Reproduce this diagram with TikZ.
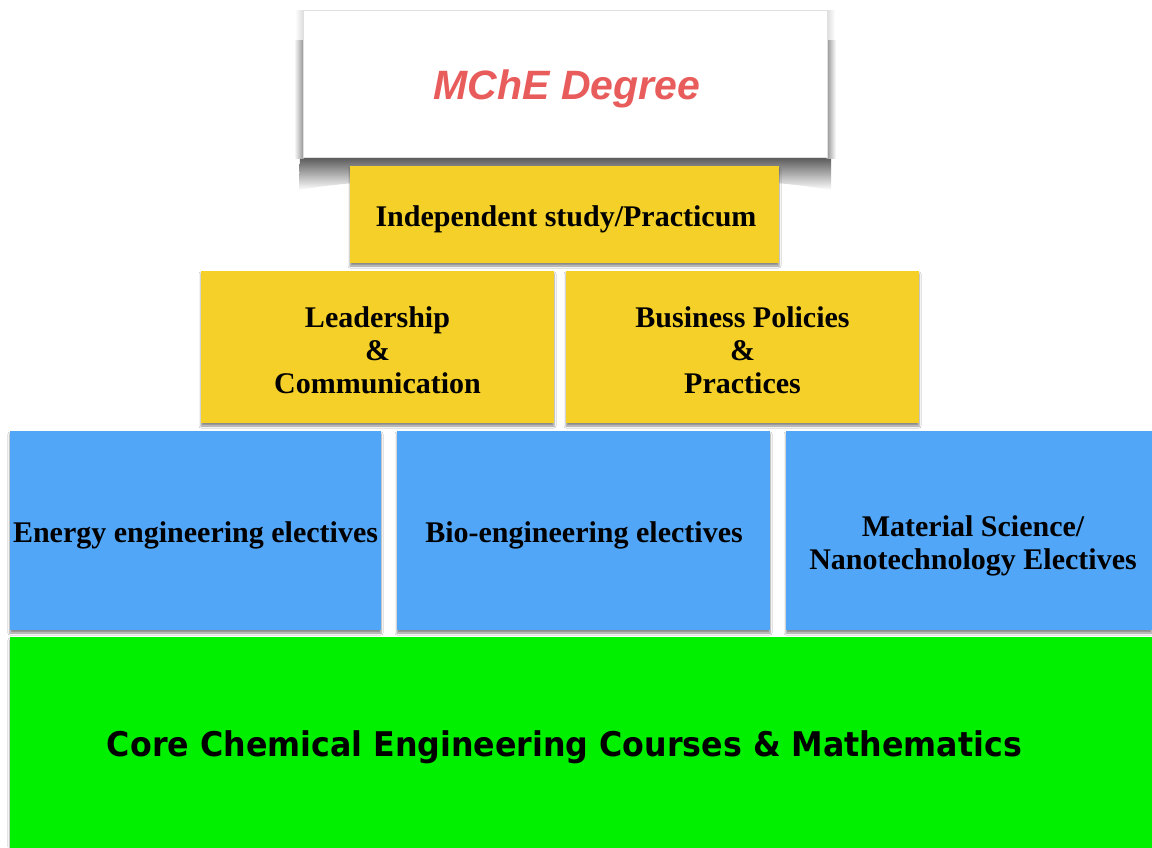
\documentclass[tikz,border=0pt]{standalone}
\usepackage{fontspec}
\usepackage{graphicx}
\setmainfont{Liberation Serif}
\newfontfamily\heros{Liberation Sans}
\newfontfamily\dejav{DejaVu Sans}
\usetikzlibrary{shadows.blur}
\definecolor{ayellow}{HTML}{F4D028}
\definecolor{ablue}{HTML}{52A6F8}
\definecolor{agreen}{HTML}{00F000}
\definecolor{ared}{HTML}{E95C5C}
\tikzset{
  blk/.style={inner sep=0pt, outer sep=0pt,
    blur shadow={shadow xshift=0pt, shadow yshift=-3pt, shadow blur radius=2pt, shadow opacity=45}},
  ybox/.style={blk, fill=ayellow},
  bbox/.style={blk, fill=ablue},
  lbl/.style={inner sep=0pt, align=center, text=black, font=\fontsize{30}{33}\selectfont\bfseries},
}
\begin{document}
\begin{tikzpicture}[x=1pt,y=-1pt]
\useasboundingbox (0,0) rectangle (1152,847);
\fill[white] (0,0) rectangle (1152,847);
% top box shadow
\shade[top color=black!70, bottom color=white]
  (300,155) -- (831,155) -- (831,190) .. controls (720,170) and (410,170) .. (299,190) -- cycle;
\shade[left color=white, right color=black!15] (295,10) rectangle (304,40);
\shade[left color=white, right color=black!45] (294,40) rectangle (304,158);
\shade[left color=black!15, right color=white] (826,10) rectangle (835,40);
\shade[left color=black!45, right color=white] (826,40) rectangle (836,158);
% top box
\node[inner sep=0pt, fill=white, draw=black!12, line width=0.8pt, minimum width=524pt, minimum height=147pt] (top) at (565,83.5) {};
\node[inner sep=0pt, text=ared, font=\heros\fontsize{41}{44}\selectfont\bfseries\itshape] (toptext) at (567,89) {MChE Degree};
% yellow
\node[ybox, minimum width=429pt, minimum height=97pt] (indep) at (564.5,214.5) {};
\node[lbl] (indeptext) at (566,219.5) {Independent study/Practicum};
\node[ybox, minimum width=353pt, minimum height=152pt] (lead) at (377.5,347) {};
\node[lbl] (leadtext) at (377.5,350.5) {Leadership\\\&\\Communication};
\node[ybox, minimum width=353pt, minimum height=152pt] (bus) at (742.5,347) {};
\node[lbl] (bustext) at (742.5,350.5) {Business Policies\\\&\\Practices};
% blue
\node[bbox, minimum width=371pt, minimum height=199pt] (energy) at (195.5,530.5) {};
\node[lbl] (energytext) at (195.5,535.5) {Energy engineering electives};
\node[bbox, minimum width=373pt, minimum height=199pt] (bio) at (583.5,530.5) {};
\node[lbl] (biotext) at (584,535.5) {Bio-engineering electives};
\node[bbox, minimum width=366pt, minimum height=199pt] (mat) at (969,530.5) {};
\node[lbl] (mattext) at (973,546) {Material Science/\\Nanotechnology Electives};
% green
\node[inner sep=0pt, fill=agreen, minimum width=1142pt, minimum height=215pt,
  blur shadow={shadow xshift=0pt, shadow yshift=-3pt, shadow blur radius=2pt, shadow opacity=45}] (core) at (581,744.5) {};
\node[inner sep=0pt, font=\dejav\fontsize{34}{36}\selectfont\bfseries] (coretext) at (564.5,747) {\resizebox{915pt}{\height}{Core Chemical Engineering Courses \& Mathematics}};
\end{tikzpicture}
\end{document}
